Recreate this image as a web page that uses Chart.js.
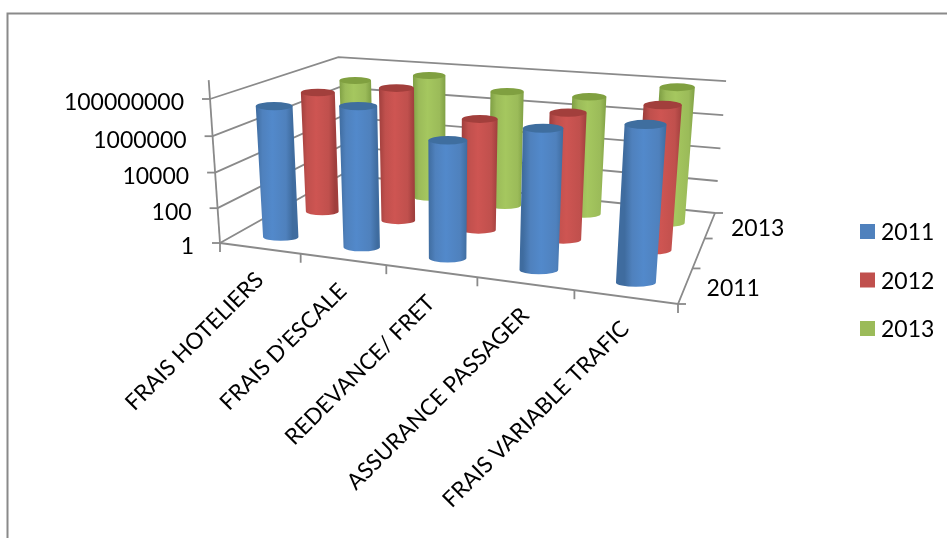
<!DOCTYPE html>
<html>
<head>
<meta charset="utf-8">
<title>Frais par poste</title>
<style>
  html, body { margin: 0; background: #fff; }
  canvas { display: block; }
</style>
<script src="https://cdn.jsdelivr.net/npm/chart.js@4"></script>
</head>
<body>
<canvas id="chart" width="947" height="538"></canvas>
<script>
const categories = ["FRAIS HOTELIERS", "FRAIS D’ESCALE", "REDEVANCE/ FRET", "ASSURANCE PASSAGER", "FRAIS VARIABLE TRAFIC"];
const years = ["2011", "2012", "2013"];
const values2011 = [26000000, 60000000, 2400000, 25000000, 95000000];
const values2012 = [18000000, 70000000, 2800000, 15000000, 90000000];
const values2013 = [13000000, 55000000, 12000000, 13000000, 100000000];
const valueTicks = [1, 100, 10000, 1000000, 100000000];
const depthLabels = ["2011", "2013"];

const fills = ["#4F81BD", "#C0504D", "#9BBB59"];
const edges = ["#3F6C9F", "#A03F3D", "#80A045"];
const highlights = ["#5289CB", "#CE5552", "#A5C75F"];
const caps = ["#3F6E9F", "#A23F3C", "#80A040"];

const FONT = "Lato, sans-serif";
const LINE = "#8a8a8a";
const RADIUS = 18;
const ROW_OFFSET = 0.41;
const COLUMN_SHIFT = 0.005;

// floor corners of the box, and where its verticals converge
const FL = [220, 243], FR = [678, 304], BR = [715, 213], BL = [342, 174.5];
const VANISH = [443, 3454];
const FLOOR_TOP_Y = 99;

function floorHomography() {
  const sx = FL[0] - FR[0] + BR[0] - BL[0], sy = FL[1] - FR[1] + BR[1] - BL[1];
  const dx1 = FR[0] - BR[0], dx2 = BL[0] - BR[0], dy1 = FR[1] - BR[1], dy2 = BL[1] - BR[1];
  const den = dx1 * dy2 - dx2 * dy1;
  const g = (sx * dy2 - dx2 * sy) / den;
  const h = (dx1 * sy - sx * dy1) / den;
  return {
    a: FR[0] - FL[0] + g * FR[0], b: BL[0] - FL[0] + h * BL[0], c: FL[0],
    d: FR[1] - FL[1] + g * FR[1], e: BL[1] - FL[1] + h * BL[1], f: FL[1],
    g, h,
  };
}

const H = floorHomography();
const R = (FLOOR_TOP_Y - FL[1]) / (VANISH[1] - FLOOR_TOP_Y);

function depthAt(u, v, w) {
  return H.g * u + H.h * v + 1 + R * w;
}

// u along the categories, v into the depth, w up the value axis (all 0..1)
function project(u, v, w) {
  const den = depthAt(u, v, w);
  return [
    (H.a * u + H.b * v + H.c + VANISH[0] * R * w) / den,
    (H.d * u + H.e * v + H.f + VANISH[1] * R * w) / den,
  ];
}

function strokePath(ctx, pts, width = 1.8) {
  ctx.beginPath();
  pts.forEach((p, i) => (i ? ctx.lineTo(p[0], p[1]) : ctx.moveTo(p[0], p[1])));
  ctx.strokeStyle = LINE;
  ctx.lineWidth = width;
  ctx.stroke();
}

function drawBox(ctx, chart) {
  const y = chart.scales.y;
  const area = chart.chartArea;
  const toW = (val) => (area.bottom - y.getPixelForValue(val)) / area.height;

  y.ticks.forEach((tick) => {
    const w = toW(tick.value);
    strokePath(ctx, [project(0, 0, w), project(0, 1, w), project(1, 1, w)]);
    const front = project(0, 0, w);
    strokePath(ctx, [front, [front[0] - 8, front[1]]]);
  });

  strokePath(ctx, [project(0, 0, 1.125), FL]);
  strokePath(ctx, [FL, FR, BR]);

  for (let i = 0; i <= categories.length; i++) {
    const p = project(i / categories.length, 0, 0);
    strokePath(ctx, [p, [p[0], p[1] + 9]]);
  }
  for (let i = 0; i <= years.length; i++) {
    const p = project(1, i / years.length, 0);
    strokePath(ctx, [p, [p[0] + 8, p[1]]]);
  }
}

function drawCylinder(ctx, bar, v, s, chart) {
  const area = chart.chartArea;
  const u = (bar.x - area.left) / area.width + COLUMN_SHIFT;
  const top = (area.bottom - bar.y) / area.height;

  const ring = (w) => {
    const c = project(u, v, w);
    const rx = RADIUS / depthAt(u, v, w);
    return { x: c[0], y: c[1], rx, ry: rx * 0.22 };
  };
  const a = ring(0), b = ring(top);

  const grad = ctx.createLinearGradient(b.x - b.rx, 0, b.x + b.rx, 0);
  grad.addColorStop(0, edges[s]);
  grad.addColorStop(0.18, fills[s]);
  grad.addColorStop(0.45, highlights[s]);
  grad.addColorStop(0.82, fills[s]);
  grad.addColorStop(1, edges[s]);

  ctx.beginPath();
  ctx.moveTo(b.x - b.rx, b.y);
  ctx.lineTo(a.x - a.rx, a.y);
  ctx.ellipse(a.x, a.y, a.rx, a.ry, 0, Math.PI, 0, true);
  ctx.lineTo(b.x + b.rx, b.y);
  ctx.closePath();
  ctx.fillStyle = grad;
  ctx.fill();

  ctx.beginPath();
  ctx.ellipse(b.x, b.y, b.rx, b.ry, 0, 0, Math.PI * 2);
  ctx.fillStyle = caps[s];
  ctx.fill();
}

function drawLabels(ctx, chart) {
  const y = chart.scales.y;
  const area = chart.chartArea;
  ctx.fillStyle = "#000";
  ctx.font = `23px ${FONT}`;
  ctx.textBaseline = "middle";

  ctx.textAlign = "right";
  y.ticks.forEach((tick) => {
    const w = (area.bottom - y.getPixelForValue(tick.value)) / area.height;
    const p = project(0, 0, w);
    ctx.fillText(String(tick.value), p[0] - 26, p[1] + 4);
  });

  ctx.textAlign = "left";
  depthLabels.forEach((label) => {
    const p = project(1, (years.indexOf(label) + 0.5) / years.length, 0);
    ctx.fillText(label, p[0] + 21, p[1] + 3);
  });

  // legend column
  chart.data.datasets.forEach((ds, i) => {
    const top = 224 + i * 48.5;
    ctx.fillStyle = ds.backgroundColor;
    ctx.fillRect(860, top, 15, 15);
    ctx.fillStyle = "#000";
    ctx.fillText(ds.label, 881, top + 9);
  });

  ctx.font = `22.5px ${FONT}`;
  ctx.textAlign = "right";
  chart.scales.x.getLabels().forEach((label, i) => {
    const p = project((i + 0.5) / categories.length, 0, 0);
    ctx.save();
    ctx.translate(p[0], p[1] + 28);
    ctx.rotate(-Math.PI / 4);
    ctx.fillText(label, 0, 0);
    ctx.restore();
  });
}

const box3d = {
  id: "box3d",
  beforeDraw(chart) {
    const ctx = chart.ctx;
    ctx.save();
    ctx.strokeStyle = LINE;
    ctx.lineWidth = 2;
    ctx.beginPath();
    ctx.moveTo(7.5, chart.height);
    ctx.lineTo(7.5, 13.5);
    ctx.lineTo(chart.width, 13.5);
    ctx.stroke();
    ctx.restore();
  },
  // the flat bars are replaced by projected cylinders, back row first
  beforeDatasetsDraw(chart) {
    const ctx = chart.ctx;
    ctx.save();
    drawBox(ctx, chart);
    for (let s = years.length - 1; s >= 0; s--) {
      const v = (s + ROW_OFFSET) / years.length;
      chart.getDatasetMeta(s).data.forEach((bar) => drawCylinder(ctx, bar, v, s, chart));
    }
    drawLabels(ctx, chart);
    ctx.restore();
    return false;
  },
};

new Chart(document.getElementById("chart"), {
  type: "bar",
  data: {
    labels: categories,
    datasets: [
      { label: years[0], data: values2011, backgroundColor: fills[0] },
      { label: years[1], data: values2012, backgroundColor: fills[1] },
      { label: years[2], data: values2013, backgroundColor: fills[2] },
    ],
  },
  plugins: [box3d],
  options: {
    responsive: false,
    animation: false,
    datasets: { bar: { grouped: false } },
    scales: {
      x: { display: false },
      y: {
        type: "logarithmic",
        display: false,
        min: 1,
        max: 100000000,
        afterBuildTicks(scale) {
          scale.ticks = valueTicks.map((value) => ({ value }));
        },
      },
    },
    plugins: {
      legend: { display: false },
      tooltip: { enabled: false },
    },
  },
});
</script>
</body>
</html>
